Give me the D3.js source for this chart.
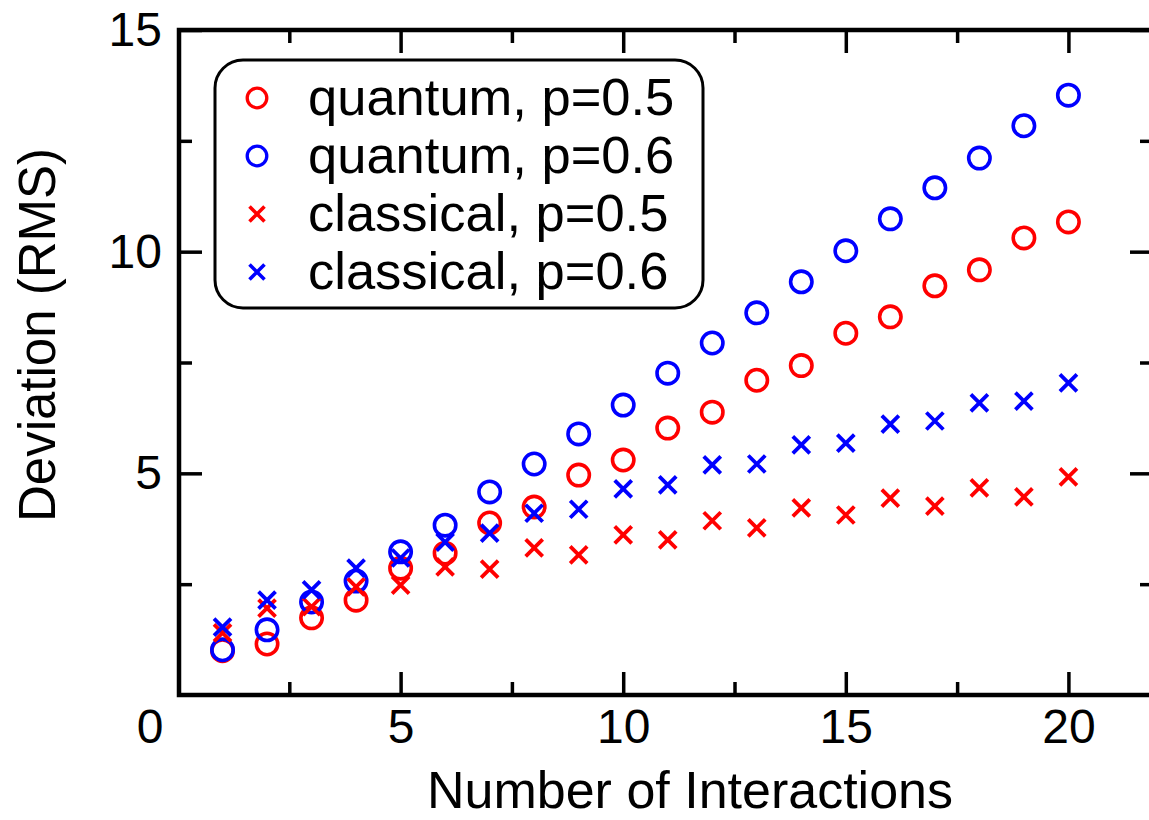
<!DOCTYPE html>
<html>
<head>
<meta charset="utf-8">
<script src="https://cdn.jsdelivr.net/npm/d3@7"></script>
<style>
  html, body { margin: 0; padding: 0; background: #fff; }
  svg { display: block; font-family: "Liberation Sans", Arial, sans-serif; }
</style>
</head>
<body>
<svg id="chart" width="1149" height="820"></svg>
<script>
// ---- data ----
const interactions = [1,2,3,4,5,6,7,8,9,10,11,12,13,14,15,16,17,18,19,20];
const quantumP05 = [1.00,1.15,1.74,2.14,2.86,3.20,3.88,4.24,4.96,5.30,6.02,6.38,7.10,7.43,8.16,8.53,9.23,9.59,10.31,10.67];
const quantumP06 = [1.02,1.47,2.10,2.57,3.23,3.83,4.58,5.21,5.89,6.54,7.26,7.94,8.62,9.32,10.02,10.74,11.44,12.11,12.84,13.53];
const classicalP05 = [1.40,1.96,1.99,2.44,2.48,2.89,2.84,3.32,3.16,3.61,3.50,3.93,3.77,4.22,4.06,4.44,4.26,4.67,4.47,4.92];
const classicalP06 = [1.53,2.14,2.37,2.86,3.09,3.45,3.65,4.10,4.19,4.65,4.74,5.19,5.21,5.64,5.68,6.11,6.18,6.59,6.63,7.04];
const seriesNames = ["quantum, p=0.5","quantum, p=0.6","classical, p=0.5","classical, p=0.6"];
const xMajorTicks = [5,10,15,20];
const xMinorTicks = [2.5,7.5,12.5,17.5];
const yMajorTicks = [5,10,15];
const yMinorTicks = [2.5,7.5,12.5];
const xTitle = "Number of Interactions";
const yTitle = "Deviation (RMS)";

(function () {
// ---- layout ----
const svg = d3.select("#chart");
const pL = 179, pR = 1153, pT = 30, pB = 695;
const x = d3.scaleLinear().domain([0, 21.9]).range([178, pR]);
const y = d3.scaleLinear().domain([0, 15]).range([pB, pT]);
const RED = "#ff0000", BLUE = "#0000ff";
const fontSize = 48;

function styleAxis(g) {
  g.select(".domain").remove();
  g.selectAll(".tick line").attr("stroke", "#000").attr("stroke-width", 3.5);
  g.selectAll(".tick text").attr("fill", "#000").style("font-size", fontSize + "px")
    .style("font-family", '"Liberation Sans", Arial, sans-serif');
}
// bottom
svg.append("g").attr("transform", `translate(0,${pB})`)
  .call(d3.axisBottom(x).tickValues(xMajorTicks).tickSizeInner(-23).tickSizeOuter(0).tickPadding(14).tickFormat(d3.format("d")))
  .call(styleAxis);
svg.append("g").attr("transform", `translate(0,${pB})`)
  .call(d3.axisBottom(x).tickValues(xMinorTicks).tickSizeInner(-13).tickSizeOuter(0).tickFormat(""))
  .call(styleAxis);
// top
svg.append("g").attr("transform", `translate(0,${pT})`)
  .call(d3.axisTop(x).tickValues(xMajorTicks).tickSizeInner(-23).tickSizeOuter(0).tickFormat(""))
  .call(styleAxis);
svg.append("g").attr("transform", `translate(0,${pT})`)
  .call(d3.axisTop(x).tickValues(xMinorTicks).tickSizeInner(-13).tickSizeOuter(0).tickFormat(""))
  .call(styleAxis);
// left
svg.append("g").attr("transform", `translate(${pL},0)`)
  .call(d3.axisLeft(y).tickValues(yMajorTicks).tickSizeInner(-23).tickSizeOuter(0).tickPadding(17).tickFormat(d3.format("d")))
  .call(styleAxis);
svg.append("g").attr("transform", `translate(${pL},0)`)
  .call(d3.axisLeft(y).tickValues(yMinorTicks).tickSizeInner(-13).tickSizeOuter(0).tickFormat(""))
  .call(styleAxis);
// right
svg.append("g").attr("transform", `translate(${pR},0)`)
  .call(d3.axisRight(y).tickValues(yMajorTicks).tickSizeInner(-23).tickSizeOuter(0).tickFormat(""))
  .call(styleAxis);
svg.append("g").attr("transform", `translate(${pR},0)`)
  .call(d3.axisRight(y).tickValues(yMinorTicks).tickSizeInner(-13).tickSizeOuter(0).tickFormat(""))
  .call(styleAxis);

// frame
svg.append("rect").attr("x", pL).attr("y", pT).attr("width", pR - pL).attr("height", pB - pT)
  .attr("fill", "none").attr("stroke", "#000").attr("stroke-width", 4.5);

// origin label
svg.append("text").attr("x", 150).attr("y", 743).attr("text-anchor", "middle")
  .style("font-size", fontSize + "px").text("0");

// titles
svg.append("text").attr("x", 690).attr("y", 808).attr("text-anchor", "middle")
  .style("font-size", "52px").text(xTitle);
svg.append("text").attr("transform", "translate(55,335) rotate(-90)").attr("text-anchor", "middle")
  .style("font-size", "51px").text(yTitle);

// markers
const circR = 10.7, crossH = 8.5;
function drawCircles(vals, color) {
  svg.append("g").selectAll("circle").data(interactions.map((n, i) => [n, vals[i]])).join("circle")
    .attr("cx", d => x(d[0])).attr("cy", d => y(d[1])).attr("r", circR)
    .attr("fill", "none").attr("stroke", color).attr("stroke-width", 3.6);
}
function crossPath(cx, cy, h) {
  return `M${cx - h},${cy - h}L${cx + h},${cy + h}M${cx - h},${cy + h}L${cx + h},${cy - h}`;
}
function drawCrosses(vals, color) {
  svg.append("g").selectAll("path").data(interactions.map((n, i) => [n, vals[i]])).join("path")
    .attr("d", d => crossPath(x(d[0]), y(d[1]), crossH))
    .attr("fill", "none").attr("stroke", color).attr("stroke-width", 3.8);
}
drawCircles(quantumP05, RED);
drawCircles(quantumP06, BLUE);
drawCrosses(classicalP05, RED);
drawCrosses(classicalP06, BLUE);

// legend
const lg = svg.append("g");
lg.append("rect").attr("x", 215).attr("y", 60).attr("width", 488).attr("height", 248).attr("rx", 28).attr("ry", 28)
  .attr("fill", "#fff").attr("stroke", "#000").attr("stroke-width", 3);
const legendItems = [
  {name: seriesNames[0], color: RED, type: "circle"},
  {name: seriesNames[1], color: BLUE, type: "circle"},
  {name: seriesNames[2], color: RED, type: "cross"},
  {name: seriesNames[3], color: BLUE, type: "cross"}
];
legendItems.forEach((it, i) => {
  const cy = 98 + i * 58;
  if (it.type === "circle") {
    lg.append("circle").attr("cx", 257).attr("cy", cy).attr("r", 9.8)
      .attr("fill", "none").attr("stroke", it.color).attr("stroke-width", 3.3);
  } else {
    lg.append("path").attr("d", crossPath(257, cy, 7.5))
      .attr("fill", "none").attr("stroke", it.color).attr("stroke-width", 3.6);
  }
  lg.append("text").attr("x", 308).attr("y", cy + 17).style("font-size", "52.5px").text(it.name);
});
})();
</script>
</body>
</html>
